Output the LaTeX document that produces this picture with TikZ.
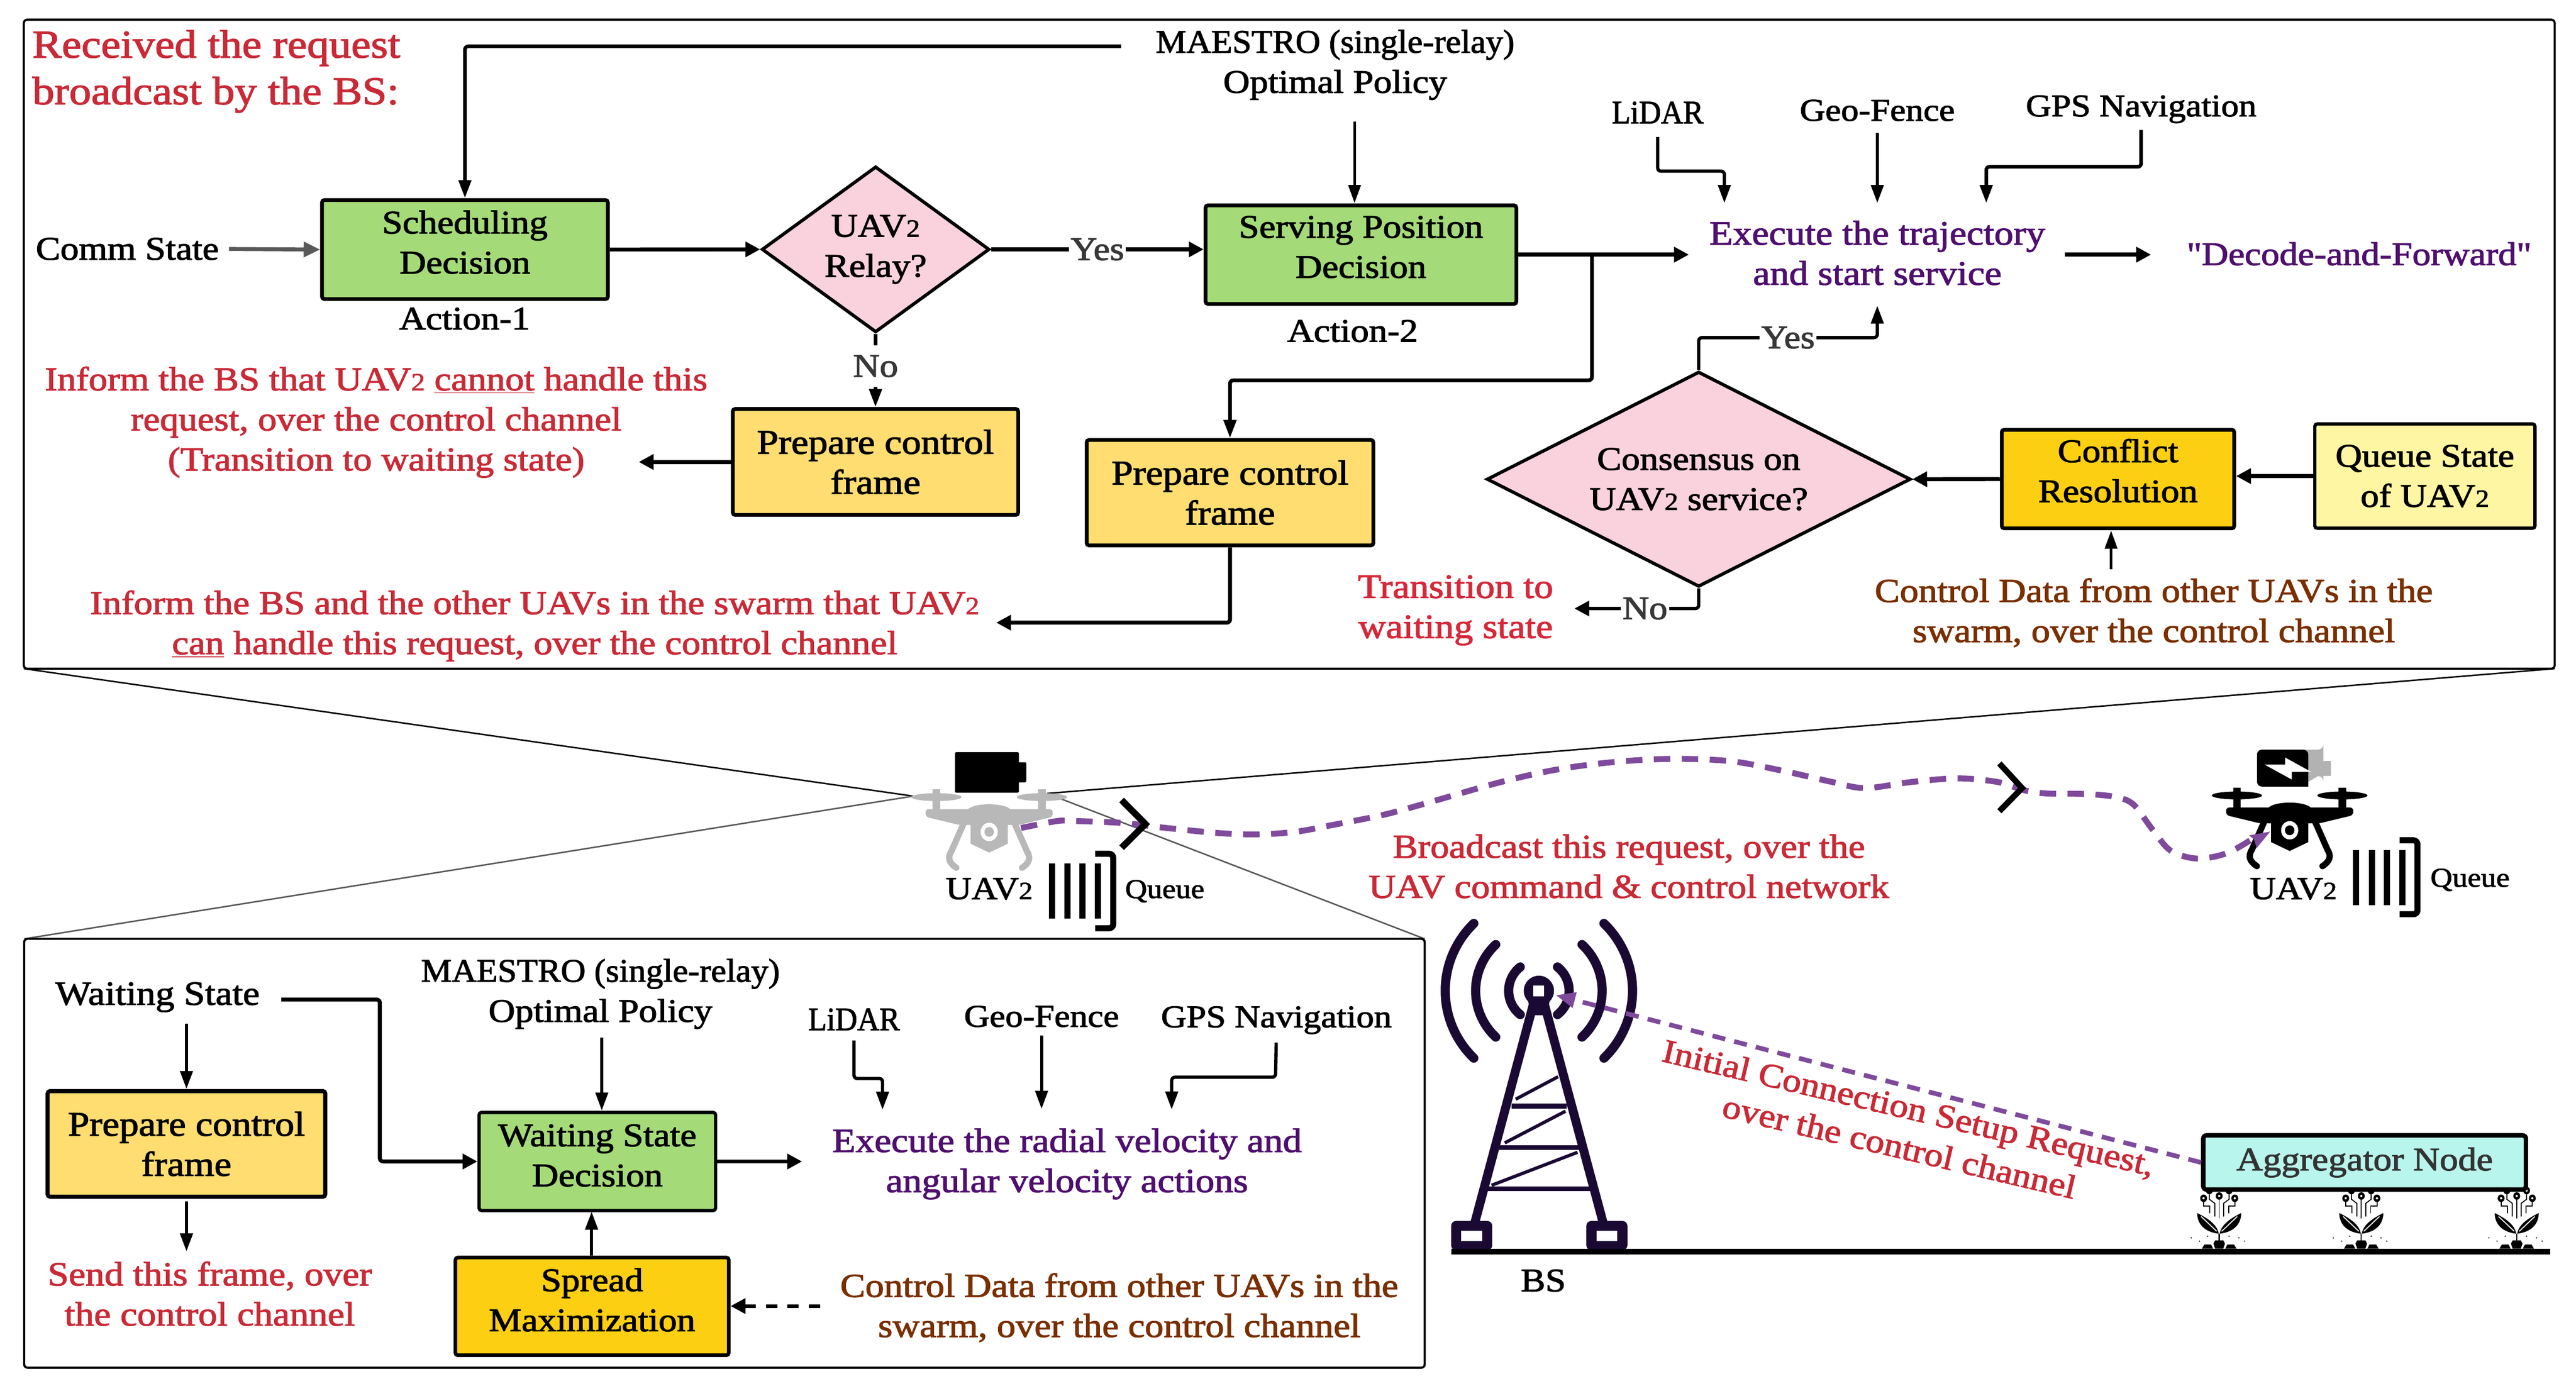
\documentclass[tikz,border=0pt]{standalone}
\usepackage{fontspec}
\setmainfont{Liberation Serif}[FakeStretch=1.12,FakeBold=2]
\newfontfamily\plainq{Liberation Serif}[FakeStretch=1.12,FakeBold=2]
\usetikzlibrary{arrows.meta,shapes.geometric,calc}
\definecolor{cred}{HTML}{C92A36}
\definecolor{cred2}{HTML}{D62839}
\definecolor{cpur}{HTML}{4F0F6F}
\definecolor{cbrn}{HTML}{7A2F00}
\definecolor{cgrn}{HTML}{A5DA78}
\definecolor{cyel}{HTML}{FFDD70}
\definecolor{cpnk}{HTML}{F9D2DE}
\definecolor{cgld}{HTML}{FCCF12}
\definecolor{clyl}{HTML}{FFF6A3}
\definecolor{caqu}{HTML}{B8F5EC}
\definecolor{cdash}{HTML}{7F4A9C}
\definecolor{ctow}{HTML}{1A0A33}
\definecolor{cgry}{HTML}{595959}
\newcommand{\uavtwo}{UAV{\fontsize{15}{15}\selectfont 2}}
\newcommand{\liftbox}[2]{\begin{tabular}{@{}c@{}}#2\\[#1]\end{tabular}}
\tikzset{
 tsz/.style={font=\fontsize{#1}{24.4}\selectfont},
 txt/.style={align=center,inner sep=0pt,font=\fontsize{20}{24.4}\selectfont},
 lab/.style={txt,fill=white,inner xsep=1pt,inner ysep=0pt,text=black!78},
 stepbox/.style={draw=black,rounded corners=1.5pt,align=center,inner sep=0pt,line width=2.3pt,font=\fontsize{20}{24.4}\selectfont},
 dec/.style={draw=black,fill=cpnk,diamond,line width=2pt,inner sep=0pt,align=center,font=\fontsize{20}{24.4}\selectfont},
 arr/.style={line width=2.2pt,rounded corners=2pt,-{Triangle[length=11pt,width=7.5pt]}},
 arrthin/.style={line width=1.5pt,rounded corners=2pt,-{Triangle[length=11pt,width=7.5pt]}},
 arrwide/.style={line width=2.4pt,rounded corners=2pt,-{Triangle[length=9pt,width=9pt]}},
 frame/.style={draw=black,line width=1.3pt,rounded corners=2pt},
 pdash/.style={draw=cdash,line width=3.6pt,dash pattern=on 10pt off 7pt},
 pics/drone/.style={code={
  \fill[dronecol] (-32.1,0) ellipse (15.3 and 2.4);
  \fill[dronecol] (32.1,0) ellipse (15.3 and 2.4);
  \fill[dronecol] (-34.4,-4.8) rectangle (-29.8,8);
  \fill[dronecol] (29.8,-4.8) rectangle (34.4,8);
  \fill[dronecol,rounded corners=2pt] (-38.7,7.3) -- (38.7,7.3) -- (38.7,12) -- (18,17) -- (-18,17) -- (-38.7,12) -- cycle;
  \fill[dronecol] (-13,7.5) .. controls (-9,3.3) and (9,3.3) .. (13,7.5) -- cycle;
  \fill[dronecol] (-11.3,14) -- (11.3,14) -- (11.3,28.4) -- (0,33.8) -- (-11.3,28.4) -- cycle;
  \fill[white] (0,21.2) ellipse (5.2 and 5.6);
  \fill[dronecol] (0,21.2) ellipse (2.9 and 3);
  \draw[dronecol,line width=3.8pt,line cap=round] (-15.5,16) -- (-23,33) .. controls (-25.5,37) and (-24.5,40) .. (-20,43);
  \draw[dronecol,line width=3.8pt,line cap=round] (15.5,16) -- (23,33) .. controls (25.5,37) and (24.5,40) .. (20,43);
 }},
 pics/plant/.style={code={
  \fill[black] (0,751) .. controls (-9,750) and (-13.4,745) .. (-13.4,738.4) .. controls (-6,742) and (-1,746) .. (-0.3,751) -- cycle;
  \fill[black] (0,751) .. controls (9,750) and (13.4,745) .. (13.4,738.4) .. controls (6,742) and (1,746) .. (0.3,751) -- cycle;
  \draw[white,line width=.6pt] (-11,740.5) -- (-1.5,749.5);
  \draw[white,line width=.6pt] (11,740.5) -- (1.5,749.5);
  \draw[black,line width=.7pt] (0,751) -- (0,758);
  \draw[black,line width=.6pt] (0,729) -- (0,741.5);
  \draw[black,line width=.6pt] (-6,726) -- (-6,730) -- (-2.7,732.5) -- (-2.7,740.5);
  \draw[black,line width=.6pt] (6,726) -- (6,730) -- (2.7,732.5) -- (2.7,740.5);
  \draw[black,line width=.6pt] (-9.5,731) -- (-9.5,734) -- (-5.7,734) -- (-5.7,738.5);
  \draw[black,line width=.6pt] (9.5,731) -- (9.5,734) -- (5.7,734) -- (5.7,738.5);
  \foreach \a/\b in {-6/724.7,6/724.7,0/728,-9.5/729.4,9.5/729.4}{
    \fill[black] (\a,\b) ellipse (2.1 and 2.3);
    \fill[white] (\a,\b) circle (.7);}
  \fill[black] (-2.5,755) -- (2.5,755) -- (3.5,757) -- (2.5,760) -- (-2.5,760) -- (-3.5,757) -- cycle;
  \fill[black] (-9,757.5) -- (-5,757.5) -- (-3.7,760) -- (-10.5,760) -- cycle;
  \fill[black] (9,757.5) -- (5,757.5) -- (3.7,760) -- (10.5,760) -- cycle;
  \foreach \a/\b in {-17/753.5,-12/755.5,-7/752.5,6/752.5,12/753.5,15.5/755.5}{
    \fill[black] (\a,\b) circle (.45);}
 }},
}
\begin{document}
\begin{tikzpicture}[x=1pt,y=-1pt]
\useasboundingbox (0,0) rectangle (1568,846.6);
% zoom lines (under the frames and drones)
\coordinate (zl) at (555.8,484.6);
\coordinate (zr) at (637.3,483);
\draw[black,line width=.9pt] (14.5,407) -- (zl);
\draw[black,line width=.9pt] (1555,407) -- (zr);
\draw[cgry,line width=.9pt] (14.7,571.5) -- (zl);
\draw[cgry,line width=.9pt] (867.2,571.5) -- (zr);
% frames
\node[frame,minimum width=1540.5pt,minimum height=395pt,inner sep=0pt] (topframe) at (784.75,209.5) {};
\node[frame,minimum width=852.5pt,minimum height=261pt,inner sep=0pt] (botframe) at (440.95,702) {};

% ---------- top panel
\node[txt,font=\fontsize{24}{28.4}\selectfont,text=cred,align=left,anchor=west] (recv) at (19.5,43.5) {Received the request\\broadcast by the BS:};
\node[txt] (comm) at (77.5,151.5) {Comm State};
\node[stepbox,fill=cgrn,minimum width=174pt,minimum height=60.3pt] (sched) at (283,151.9) {\liftbox{5pt}{Scheduling\\Decision}};
\node[txt] (act1) at (282.8,194) {Action-1};
\node[dec,minimum width=138.6pt,minimum height=101pt,shape aspect=1.37] (relay) at (533,151.8) {\uavtwo\\Relay?};
\node[stepbox,fill=cyel,tsz=21,minimum width=173.7pt,minimum height=64.5pt] (prep1) at (532.9,281.2) {Prepare control\\frame};
\node[txt,tsz=20.4,text=cred] (inf1) at (229,257) {Inform the BS that \uavtwo{} \underline{cannot} handle this\\request, over the control channel\\(Transition to waiting state)};
\node[txt] (maes) at (812.7,39.5) {\scalebox{.936}[1]{MAESTRO (single-relay)}\\Optimal Policy};
\node[stepbox,fill=cgrn,minimum width=189.2pt,minimum height=60pt] (serv) at (828.4,155) {\liftbox{6pt}{Serving Position\\Decision}};
\node[txt] (act2) at (823.3,201.5) {Action-2};
\node[stepbox,fill=cyel,tsz=21,minimum width=174.5pt,minimum height=64.2pt] (prep2) at (748.7,299.9) {Prepare control\\frame};
\node[txt,tsz=20.4,text=cred] (inf2) at (325.5,381) {Inform the BS and the other UAVs in the swarm that \uavtwo\\\underline{can} handle this request, over the control channel};
\node[txt] (lidar) at (1009,68.5) {\scalebox{.83}[1]{LiDAR}};
\node[txt,tsz=19.2] (geo) at (1142.7,67.2) {Geo-Fence};
\node[txt,tsz=19.2] (gps) at (1303.3,66.5) {GPS Navigation};
\node[txt,tsz=20.8,text=cpur] (exec) at (1142.7,154) {Execute the trajectory\\and start service};
\node[txt,text=cpur] (dnf) at (1436,154.5) {\plainq "Decode-and-Forward"};
\node[dec,minimum width=258pt,minimum height=131pt,shape aspect=1.97] (cons) at (1034,291.7) {Consensus on\\\uavtwo{} service?};
\node[stepbox,fill=cgld,minimum width=141.5pt,minimum height=60pt] (conf) at (1289.2,291.6) {\liftbox{6pt}{Conflict\\Resolution}};
\node[stepbox,fill=clyl,line width=2pt,minimum width=134pt,minimum height=63.5pt] (queue) at (1476,289.8) {Queue State\\of \uavtwo};
\node[txt,tsz=20.4,text=cbrn] (ctrl1) at (1311,373) {Control Data from other UAVs in the\\swarm, over the control channel};
\node[txt,tsz=20.8,text=cred2] (trans) at (886,371.5) {Transition to\\waiting state};

\coordinate (maesL) at (682.4,28.2);
\coordinate (schedUp) at (283,28.2);
\draw[arr] (maesL) -- (schedUp) -- (sched.north);
\coordinate (servIn) at (824.5,123.6);
\draw[arrthin,shorten <=13pt] (maes.south -| servIn) -- (servIn);
\draw[line width=2.4pt,cgry,shorten <=6pt,-{Triangle[length=10pt,width=9pt]}] (comm.east) -- (sched.west);
\draw[arrwide] (sched.east) -- (relay.west);
\draw[arrwide] (relay.east) -- node[lab]{Yes} (relay.east -| serv.west);
\draw[arrthin,line width=2.2pt] (relay.south) -- node[lab,pos=.44,inner ysep=6pt]{No} (prep1.north);
\coordinate (inf1End) at (388.8,281.2);
\draw[arrwide] (prep1.west) -- (inf1End);
\coordinate (execL) at (1028,155);
\draw[arrwide] (serv.east) -- (execL);
\coordinate (br1) at (969,155);
\coordinate (br2) at (969,231.5);
\draw[arrthin,line width=2.3pt] (br1) -- (br2) -| (prep2.north);
\coordinate (inf2End) at (606.4,379);
\draw[arrwide] (prep2.south) |- (inf2End);
\coordinate (lidIn) at (1049.6,123.6);
\coordinate (lidB) at (1009,104.2);
\draw[arrthin,line width=2pt,shorten <=8pt] (lidar.south) -- (lidB) -| (lidIn);
\coordinate (geoIn) at (1142.7,123.6);
\draw[arrthin,line width=2pt,shorten <=7pt] (geo.south) -- (geoIn);
\coordinate (gpsIn) at (1209,123.6);
\coordinate (gpsB) at (1303.3,101.5);
\draw[arrthin,line width=2.2pt,shorten <=4pt] (gps.south) -- (gpsB) -| (gpsIn);
\coordinate (dnfL) at (1256.8,155);
\coordinate (dnfE) at (1309.3,155);
\draw[arrwide] (dnfL) -- (dnfE);
\coordinate (yesY) at (1034,205.5);
\coordinate (execB) at (1142.7,186);
\draw[arrthin,line width=2pt] (cons.north) -- (yesY) -| node[lab,pos=.25]{Yes} (execB);
\coordinate (noEnd) at (958.3,370.4);
\draw[arrwide,line width=2pt] (cons.south) |- node[lab,pos=.716]{No} (noEnd);
\draw[arrwide] (conf.west) -- (cons.east);
\draw[arrwide] (queue.west) -- (queue.west -| conf.east);
\coordinate (ctrlUp) at (1285,346.5);
\coordinate (confB) at (1285,323);
\draw[arrthin] (ctrlUp) -- (confB);

% ---------- bottom panel
\node[txt,tsz=20.6] (wait) at (95.9,607) {Waiting State};
\node[stepbox,fill=cyel,tsz=21,line width=2.5pt,minimum width=169pt,minimum height=64.3pt] (prep3) at (113.5,696.3) {Prepare control\\frame};
\node[txt,tsz=20.6,text=cred] (send) at (127.7,787.5) {Send this frame, over\\the control channel};
\node[txt] (maes2) at (365.5,605) {\scalebox{.936}[1]{MAESTRO (single-relay)}\\Optimal Policy};
\node[stepbox,fill=cgrn,line width=2pt,minimum width=144pt,minimum height=59.7pt] (wdec) at (363.6,707) {\liftbox{4pt}{Waiting State\\Decision}};
\node[stepbox,fill=cgld,line width=2.2pt,minimum width=166.4pt,minimum height=59.5pt] (spread) at (360.4,795.2) {\liftbox{4pt}{Spread\\Maximization}};
\node[txt] (lidar2) at (519.8,620.5) {\scalebox{.83}[1]{LiDAR}};
\node[txt,tsz=19.2] (geo2) at (634,618.7) {Geo-Fence};
\node[txt,tsz=19.2] (gps2) at (776.9,621) {GPS Navigation};
\node[txt,tsz=20.6,text=cpur] (exec2) at (649.5,708.5) {Execute the radial velocity and\\angular velocity actions};
\node[txt,tsz=20.4,text=cbrn] (ctrl2) at (681.3,796) {Control Data from other UAVs in the\\swarm, over the control channel};

\draw[arrthin,line width=2pt,shorten <=7pt] (wait.south -| prep3.north) -- (prep3.north);
\coordinate (sendIn) at (113.5,761.8);
\draw[arrthin,line width=2pt,shorten <=1.5pt] (prep3.south) -- (sendIn);
\coordinate (waitR) at (171.2,608.4);
\coordinate (waitB) at (231.2,707);
\draw[arrwide] (waitR) -| (waitB) -- (wdec.west);
\coordinate (wdecIn) at (366.3,676);
\draw[arrthin,line width=1.8pt,shorten <=5pt] (maes2.south -| wdecIn) -- (wdecIn);
\coordinate (wdecB) at (360.1,737.5);
\draw[arrthin,line width=2pt] (spread.north -| wdecB) -- (wdecB);
\coordinate (exec2L) at (488.2,707);
\draw[arrwide] (wdec.east) -- (exec2L);
\coordinate (lid2In) at (537.2,675.5);
\coordinate (lid2B) at (519.8,656.5);
\draw[arrthin,line width=2pt,shorten <=6pt] (lidar2.south) -- (lid2B) -| (lid2In);
\coordinate (geo2In) at (634,675);
\draw[arrthin,line width=1.8pt,shorten <=5pt] (geo2.south) -- (geo2In);
\coordinate (gps2In) at (713.2,675.4);
\coordinate (gps2B) at (776.4,655.7);
\draw[arrthin,line width=2pt,shorten <=5pt] (gps2.south) -- (gps2B) -| (gps2In);
\coordinate (ctrl2L) at (499.2,795);
\draw[line width=2.2pt,dash pattern=on 7pt off 6pt,-{Triangle[length=9pt,width=9pt]}] (ctrl2L) -- (spread.east |- ctrl2L);

% ---------- middle: drones
\colorlet{dronecol}{black!28}
\pic at (602.1,485.2) {drone};
\colorlet{dronecol}{black}
\pic at (1393.7,484.2) {drone};
% batteries
\fill[black,rounded corners=.6pt] (581.3,457.8) rectangle (620.2,482.5);
\fill[black,rounded corners=.6pt] (619,464) rectangle (624.7,476.2);
\fill[black!30] (1400,456.3) -- (1411,456.3) arc[start angle=90,end angle=0,radius=3.2] -- (1414.2,463.2) -- (1418.8,463.2) -- (1418.8,472.2) -- (1414.2,472.2) -- (1414.2,475.6) arc[start angle=0,end angle=-90,radius=3.2] -- (1400,478.8) -- cycle;
\fill[black,rounded corners=3pt] (1373.8,456.3) -- (1405,456.3) [sharp corners] -- (1405,478.8) [rounded corners=3pt] -- (1373.8,478.8) -- cycle;
\fill[white] (1390.9,461.1) -- (1390.9,465.4) -- (1378.4,465.4) -- (1395,474.5) -- (1395,469.9) -- (1406.9,469.9) -- cycle;
% labels
\node[txt,tsz=19.5] (uavA) at (602.1,541) {\uavtwo};
\node[txt,tsz=19.5] (uavB) at (1396,541) {\uavtwo};
\node[txt,font=\fontsize{16.5}{16.5}\selectfont] (qA) at (709,542.5) {Queue};
\node[txt,font=\fontsize{16.5}{16.5}\selectfont] (qB) at (1503.5,535.6) {Queue};
% queues
\foreach \xx in {640.5,649.7,659,668.4}{\fill[black] (\xx-1.9,525.5) rectangle (\xx+1.9,559);}
\draw[black,line width=3.7pt,rounded corners=2.5pt] (666.6,519.7) -- (677.6,519.7) -- (677.6,565) -- (666.6,565);
\foreach \xx in {1434,1443.7,1453,1462.4}{\fill[black] (\xx-1.9,517.3) rectangle (\xx+1.9,551);}
\draw[black,line width=3.7pt,rounded corners=2.5pt] (1460.6,511.5) -- (1471.5,511.5) -- (1471.5,556.5) -- (1460.6,556.5);
% purple route
\draw[pdash] plot[smooth,tension=.55] coordinates {(621.5,504) (644,499.7) (655.9,499.8) (684,501) (708.3,503.8) (740.5,507) (764.7,507.9) (788.8,506.3) (813,501.8) (841.2,496.2) (865.4,489.7) (913.7,476) (950,468) (986.3,463.5) (1020.5,461.9) (1054.8,463.5) (1087,469.6) (1115.2,476) (1135.3,479.7) (1163.5,476) (1191.7,473.8) (1215.9,476) (1232,481) (1246,483) (1268.8,483.3) (1287,485) (1298.5,489.6) (1310,504.7) (1321.3,517.8) (1337.3,522.6) (1355.5,519.3) (1372,510)};
\fill[cdash] (1381.8,506.2) -- (1369,508.5) -- (1372,511) -- (1373.6,516.2) -- cycle;
% chevrons
\coordinate (chA) at (697.2,501.6);
\coordinate (chB) at (1230.8,479.7);
\draw[black,line width=4pt] (682.7,487) -- (chA) -- (682.7,516);
\draw[black,line width=3.6pt] (1217,464.7) -- (chB) -- (1217,493.8);
\node[txt,tsz=20.4,text=cred] (bcast) at (991.5,527.4) {Broadcast this request, over the\\UAV command \& control network};

% ---------- BS tower
\begin{scope}[ctow]
\coordinate (bsc) at (936.7,603.1);
\foreach \r/\ang in {18.4/52,38.5/47,57/46}{
  \draw[line width=5.6pt,line cap=round] (bsc) ++(180-\ang:\r) arc[start angle=180-\ang,end angle=180+\ang,radius=\r];
  \draw[line width=5.6pt,line cap=round] (bsc) ++(\ang:\r) arc[start angle=\ang,end angle=-\ang,radius=\r];
}
\fill (bsc) circle (9.2);
\fill[white] (933.4,600) rectangle (940,606.6);
\draw[line width=5.4pt] (933.4,611) -- (897.5,745);
\draw[line width=5.4pt] (940,611) -- (976,745);
\fill (930,609) -- (943.4,609) -- (941,618) -- (932.4,618) -- cycle;
\fill (920,671.7) rectangle (953.5,674.7);
\fill (912.6,697) rectangle (961.6,700);
\fill (904.5,722.1) rectangle (969,725.1);
\draw[line width=2pt] (922.6,669.1) -- (948.4,655.4);
\draw[line width=2pt] (915.9,695.7) -- (952.9,676.4);
\draw[line width=2pt] (907.9,721.5) -- (960.2,701.4);
\fill[rounded corners=3pt] (883.3,761) -- (883.3,743.2) -- (908.3,743.2) -- (908.3,761) -- cycle;
\fill[rounded corners=3pt] (965.6,761) -- (965.6,743.2) -- (990.6,743.2) -- (990.6,761) -- cycle;
\fill[white] (889.5,749.2) rectangle (902.1,755.3);
\fill[white] (971.8,749.2) rectangle (984.4,755.3);
\end{scope}
\coordinate (gndL) at (883.5,761.8);
\coordinate (gndR) at (1552.3,761.8);
\draw[black,line width=3.4pt] (gndL) -- (gndR);
\node[txt] (bslab) at (939.4,779.5) {BS};
% aggregator
\pic at (1350.8,0) {plant};
\pic at (1437.3,0) {plant};
\pic at (1531.9,0) {plant};
\node[draw=black,fill=caqu,line width=2.7pt,rounded corners=2pt,minimum width=196.4pt,minimum height=33pt,inner sep=0pt,text=black!80,font=\fontsize{20}{24}\selectfont] (agg) at (1439.3,707.6) {Aggregator Node};
\draw[line width=2.8pt,draw=cdash,dash pattern=on 8pt off 5.6pt,shorten >=10.5pt,-{Triangle[length=12pt,width=9pt]}] (agg.west) -- (bsc);
\node[txt,tsz=20.3,text=cred,rotate=-13.2] (initial) at (1159,686) {Initial Connection Setup Request,\\over the control channel};
\end{tikzpicture}
\end{document}
